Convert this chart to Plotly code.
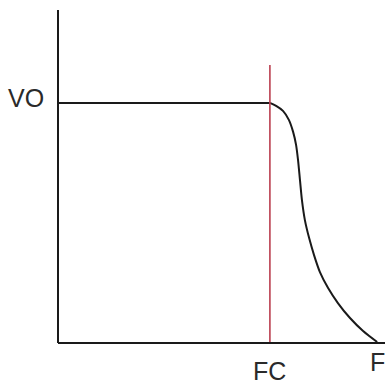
import plotly.graph_objects as go

# Low-pass response sketch: flat passband at VO up to the cutoff FC, then roll-off
fc = 64.8          # cutoff frequency (axis units)
vo = 72.1          # passband output level
marker_top = 83.5  # top of the cutoff marker line

pass_f = [0, fc]
pass_v = [vo, vo]

rolloff_f = [64.8, 66.7, 68.8, 70.6, 71.9, 72.8, 73.4, 74.0, 74.6, 75.5,
             76.8, 78.3, 80.1, 82.6, 85.6, 89.3, 93.3, 97.6]
rolloff_v = [72.1, 71.2, 69.7, 67.0, 63.4, 59.5, 55.0, 48.9, 42.9, 36.9,
             31.5, 26.4, 21.3, 16.5, 12.0, 7.5, 3.6, 0.3]

label_font = dict(family="Liberation Sans Narrow, Liberation Sans, Arial", size=25, color="#2a2a2a")

fig = go.Figure()
fig.add_trace(go.Scatter(x=pass_f, y=pass_v, mode="lines",
                         line=dict(color="#1a1a1a", width=2)))
fig.add_trace(go.Scatter(x=rolloff_f, y=rolloff_v, mode="lines",
                         line=dict(color="#1a1a1a", width=2, shape="spline", smoothing=0.8)))
fig.add_trace(go.Scatter(x=[fc, fc], y=[0, marker_top], mode="lines",
                         line=dict(color="#bb3f50", width=1.6)))

# Axis lines spanning the whole plotting area
fig.add_shape(type="line", xref="x domain", yref="y domain", x0=0, x1=1, y0=0, y1=0,
              line=dict(color="#1a1a1a", width=2))
fig.add_shape(type="line", xref="x domain", yref="y domain", x0=0, x1=0, y0=0, y1=1,
              line=dict(color="#1a1a1a", width=2))

# Axis labels: level on the left, cutoff and frequency below
fig.add_annotation(xref="x domain", yref="y", x=-0.098, y=vo + 1.5, text="VO",
                   showarrow=False, xanchor="center", yanchor="middle", font=label_font)
fig.add_annotation(xref="x", yref="y domain", x=fc, y=-0.084, text="FC",
                   showarrow=False, xanchor="center", yanchor="middle", font=label_font)
fig.add_annotation(xref="x domain", yref="y domain", x=1.007, y=-0.057, text="F",
                   showarrow=False, xanchor="right", yanchor="middle", font=label_font)

fig.update_layout(
    width=388, height=385,
    margin=dict(l=58, r=3, t=10, b=42),
    paper_bgcolor="white", plot_bgcolor="white",
    showlegend=False,
)
fig.update_xaxes(range=[0, 100], visible=False)
fig.update_yaxes(range=[0, 100], visible=False)

fig.write_html("out.html")
